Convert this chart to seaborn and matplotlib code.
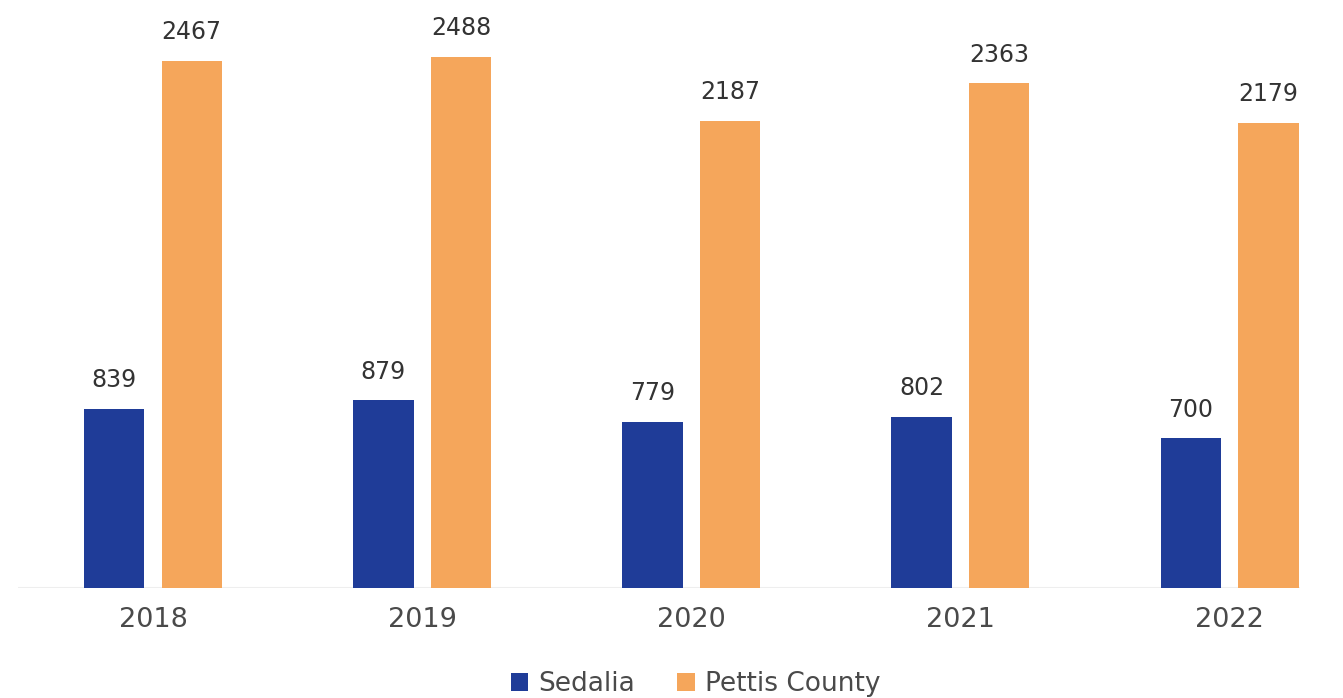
import matplotlib
matplotlib.use("Agg")
import matplotlib.pyplot as plt
import seaborn as sns
import pandas as pd
from matplotlib.patches import Patch

years = ["2018", "2019", "2020", "2021", "2022"]
sedalia = [839, 879, 779, 802, 700]
pettis_county = [2467, 2488, 2187, 2363, 2179]
series_names = ["Sedalia", "Pettis County"]
colors = ["#1f3c98", "#f5a65b"]

df = pd.DataFrame({
    "Year": years * 2,
    "Value": sedalia + pettis_county,
    "Area": [series_names[0]] * len(years) + [series_names[1]] * len(years),
})

sns.set_theme(style="white")
plt.rcParams["font.family"] = ["DejaVu Sans"]

fig = plt.figure(figsize=(13.43, 6.98), dpi=100)
ax = fig.add_axes([0.0137, 0.1576, 0.954, 0.8424])

sns.barplot(data=df, x="Year", y="Value", hue="Area", order=years,
            hue_order=series_names, palette=colors, width=0.576, gap=0.22,
            saturation=1, legend=False, linewidth=0, ax=ax)

for cont in ax.containers:
    ax.bar_label(cont, padding=12, fontsize=17, color="#333333")

ax.set_xlim(-0.5, 4.26)
ax.set_ylim(0, 2753)
ax.axhline(0, color="#eeeeee", lw=1.5, zorder=0)
for s in ax.spines.values():
    s.set_visible(False)
ax.set_yticks([])
ax.set_xlabel("")
ax.set_ylabel("")
ax.tick_params(axis="x", length=0, pad=14, labelsize=19.5, labelcolor="#4a4a4a")

handles = [Patch(facecolor=c, edgecolor="none") for c in colors]
fig.legend(handles, series_names, loc="center", bbox_to_anchor=(0.518, 0.02),
           ncol=2, frameon=False, fontsize=19, labelcolor="#4a4a4a",
           handlelength=0.65, handleheight=0.65, handletextpad=0.4,
           columnspacing=1.6)

fig.savefig("out.png", dpi=100, facecolor="white")
